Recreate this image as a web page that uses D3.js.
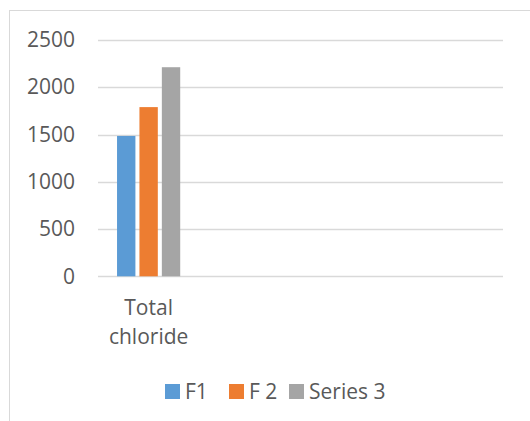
<!DOCTYPE html>
<html>
<head>
<meta charset="utf-8">
<script src="https://cdn.jsdelivr.net/npm/d3@7"></script>
<style>
	body { margin: 0; background: #fff; }
	text { font-family: "Open Sans", "Liberation Sans", sans-serif; fill: #595959; }
</style>
</head>
<body>
<script>
var categories = ['Total chloride', '', '', ''];
var series = ['F1', 'F 2', 'Series 3'];
var colors = ['#5B9BD5', '#ED7D31', '#A5A5A5'];
var values = [
	[1485, null, null, null],
	[1790, null, null, null],
	[2212, null, null, null]
];
var yTicks = [0, 500, 1000, 1500, 2000, 2500];

var width = 530,
	height = 421;

var svg = d3.select('body')
		.append('svg')
		.attr('width', width)
		.attr('height', height);

// chart area border (right and bottom edges fall outside the picture)
svg.append('rect')
	.attr('x', 9.5)
	.attr('y', 10.5)
	.attr('width', width + 20)
	.attr('height', height + 20)
	.attr('fill', 'none')
	.attr('stroke', '#D9D9D9');

var x = d3.scaleBand()
	.domain(d3.range(categories.length))
	.range([98, 503]);

var xs = d3.scaleBand()
	.domain(d3.range(series.length))
	.range([0, x.bandwidth()])
	.paddingInner(0.18)
	.paddingOuter(0.85);

var y = d3.scaleLinear()
	.domain([0, 2500])
	.range([276.3, 40]);

// gridlines
svg.append('g')
	.selectAll('line')
	.data(yTicks)
	.enter().append('line')
	.attr('x1', 98)
	.attr('x2', 503)
	.attr('y1', function(d) { return Math.round(y(d)) + 0.5; })
	.attr('y2', function(d) { return Math.round(y(d)) + 0.5; })
	.attr('stroke', '#D9D9D9')
	.attr('stroke-width', 1.3);

// y axis labels
var yAxis = svg.append('g')
	.attr('transform', 'translate(75,0)')
	.call(d3.axisLeft(y).tickValues(yTicks).tickFormat(d3.format('d')).tickSize(0).tickPadding(0));
yAxis.select('.domain').remove();
yAxis.selectAll('text')
	.attr('fill', '#595959')
	.style('font-family', '"Open Sans", sans-serif')
	.style('font-size', '21px');

// bars
var rows = [];
values.forEach(function(vals, s) {
	vals.forEach(function(v, c) {
		if (v != null) rows.push({ s: s, c: c, v: v });
	});
});

svg.append('g')
	.selectAll('rect')
	.data(rows)
	.enter().append('rect')
	.attr('x', function(d) { return x(d.c) + xs(d.s); })
	.attr('y', function(d) { return y(d.v); })
	.attr('width', xs.bandwidth())
	.attr('height', function(d) { return y(0) - y(d.v); })
	.attr('fill', function(d) { return colors[d.s]; });

// category labels, wrapped on spaces
var cat = svg.append('g')
	.selectAll('text')
	.data(categories)
	.enter().append('text')
	.attr('text-anchor', 'middle')
	.style('font-size', '21px');

cat.each(function(d, i) {
	var words = d.split(' ');
	var t = d3.select(this);
	words.forEach(function(w, k) {
		t.append('tspan')
			.attr('x', x(i) + x.bandwidth() / 2)
			.attr('y', 315 + k * 29)
			.text(w);
	});
});

// legend
var legendX = [165, 229, 289];
var legend = svg.append('g')
	.selectAll('g')
	.data(series)
	.enter().append('g')
	.attr('transform', function(d, i) { return 'translate(' + legendX[i] + ',384)'; });

legend.append('rect')
	.attr('width', 15)
	.attr('height', 15)
	.attr('fill', function(d, i) { return colors[i]; });

legend.append('text')
	.attr('x', 20)
	.attr('y', 15)
	.style('font-size', '21px')
	.text(function(d) { return d; });
</script>
</body>
</html>
